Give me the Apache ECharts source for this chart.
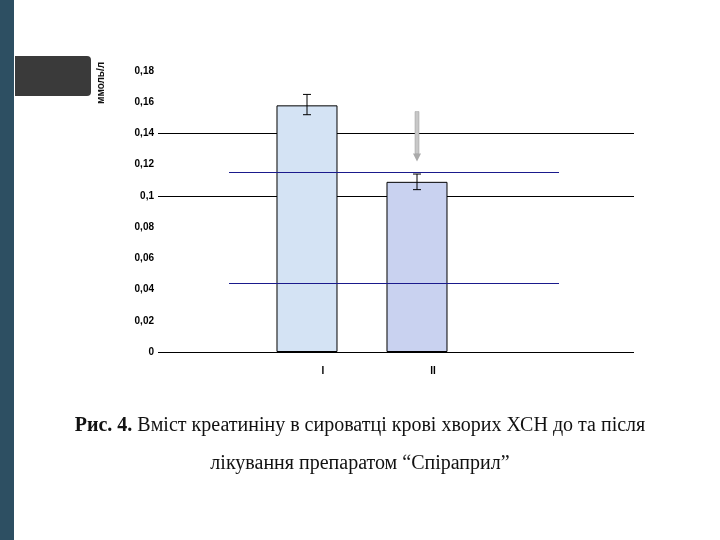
<!DOCTYPE html>
<html><head><meta charset="utf-8">
<script src="https://cdn.jsdelivr.net/npm/echarts@6/dist/echarts.min.js"></script>
<style>html,body{margin:0;padding:0;background:#fff}#c{width:720px;height:540px}</style>
</head><body><div id="c"></div>
<script>
const categories = ['', 'I', 'II', ''];
const barValues = ['-', 0.158, 0.109, '-'];
const errLow = [null, 0.152, 0.104, null];
const errHigh = [null, 0.165, 0.114, null];
const refLevels = [0.115, 0.044];
const gridLevels = [0.14, 0.10, 0];
const yTicks = ['0','0,02','0,04','0,06','0,08','0,1','0,12','0,14','0,16','0,18'];
const arrowFrom = 0.154, arrowTo = 0.122;
const OFF = -16;

const chart = echarts.init(document.getElementById('c'));
chart.setOption({
  animation: false,
  backgroundColor: '#fff',
  graphic: [
    {type:'rect', shape:{x:0,y:0,width:14,height:540}, style:{fill:'#2d4f62'}},
    {type:'rect', shape:{x:15,y:56,width:76,height:40,r:[0,4,4,0]}, style:{fill:'#3a3a3a'}},
    {type:'text', x:96, y:104, rotation: Math.PI/2, style:{text:'ммоль/л', font:'bold 10px Arial', fill:'#111'}},
    {type:'text', left:'center', top:416, style:{rich:{b:{font:'bold 20px "Liberation Serif"',fill:'#111'},n:{font:'20px "Liberation Serif"',fill:'#111'}}, text:'{b|Рис. 4.}{n| Вміст креатиніну в сироватці крові хворих ХСН до та після}'}},
    {type:'text', left:'center', top:454, style:{text:'лікування препаратом “Спіраприл”', font:'20px "Liberation Serif"', fill:'#111'}}
  ],
  grid: {left:158, right:122, top:71, bottom:188},
  xAxis: {type:'category', data:categories, axisLine:{show:false},
    axisTick:{show:false}, axisLabel:{color:'#000', fontWeight:'bold', fontSize:10, margin:14, fontFamily:'Arial'}},
  yAxis: {type:'value', min:0, max:0.18, interval:0.02,
    axisLine:{show:false}, axisTick:{show:false},
    axisLabel:{color:'#000', fontSize:10, fontWeight:'bold', fontFamily:'Arial', margin:4,
      formatter:(v)=>yTicks[Math.round(v/0.02)]},
    splitLine:{show:false}},
  series: [
    {type:'bar', data:barValues, barWidth:61, barGap:'-47.5%', z:3,
      itemStyle:{borderColor:'#000', borderWidth:1,
        color:(p)=> p.dataIndex===1 ? '#d4e3f4' : '#c9d2f0'},
      markLine:{symbol:'none', silent:true, label:{show:false}, z:1,
        data: gridLevels.map(v=>[{x:158, yAxis:v, lineStyle:{color:'#000',width:1,type:'solid'}},{x:634, yAxis:v}])}
    },
    {type:'bar', data:['-','-','-','-'], barWidth:61, silent:true,
      markLine:{symbol:'none', silent:true, label:{show:false}, z:4,
        data: refLevels.map(v=>[{coord:[0,v], lineStyle:{color:'#1a1a8c',width:1.2,type:'solid'}},{coord:[3,v]}])}
    },
    {type:'custom', data: categories.map((c,i)=>[i, errLow[i], errHigh[i]]).filter(d=>d[1]!==null),
      renderItem:(params, api)=>{
        const lo = api.coord([api.value(0), api.value(1)]);
        const hi = api.coord([api.value(0), api.value(2)]);
        const x = lo[0]+OFF;
        return {type:'group', children:[
          {type:'line', shape:{x1:x,y1:lo[1],x2:x,y2:hi[1]}, style:{stroke:'#000',lineWidth:1}},
          {type:'line', shape:{x1:x-4,y1:lo[1],x2:x+4,y2:lo[1]}, style:{stroke:'#000',lineWidth:1}},
          {type:'line', shape:{x1:x-4,y1:hi[1],x2:x+4,y2:hi[1]}, style:{stroke:'#000',lineWidth:1}}
        ]};
      }, z:5},
    {type:'custom', data:[[2, arrowFrom, arrowTo]],
      renderItem:(params, api)=>{
        const a = api.coord([api.value(0), api.value(1)]);
        const b = api.coord([api.value(0), api.value(2)]);
        const x = a[0]+OFF;
        return {type:'group', children:[
          {type:'rect', shape:{x:x-2,y:a[1],width:4,height:b[1]-a[1]-8}, style:{fill:'#c8c8c8', stroke:'#999', lineWidth:0.5}},
          {type:'polygon', shape:{points:[[x-4,b[1]-8],[x+4,b[1]-8],[x,b[1]]]}, style:{fill:'#aaa'}}
        ]};
      }, z:6}
  ]
});
</script></body></html>
